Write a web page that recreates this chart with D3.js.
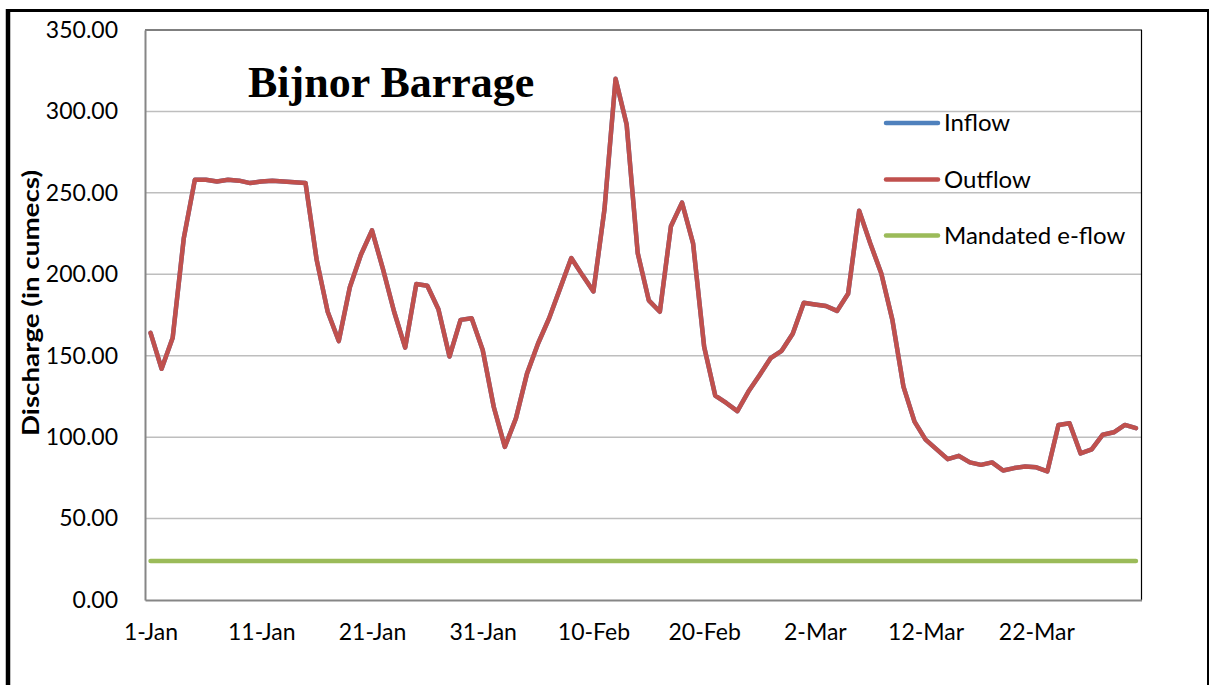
<!DOCTYPE html>
<html>
<head>
<meta charset="utf-8">
<script src="https://cdn.jsdelivr.net/npm/d3@7"></script>
<style>
  html, body { margin: 0; padding: 0; background: #fff; }
  svg { display: block; }
</style>
</head>
<body>
<svg id="chart" width="1210" height="685"></svg>
<script>
// ---- data ----
const title = "Bijnor Barrage";
const yTitle = "Discharge (in cumecs)";
const seriesNames = ["Inflow", "Outflow", "Mandated e-flow"];
const seriesColors = ["#4F81BD", "#C0504D", "#9BBB59"];
const startDate = new Date(2015, 0, 1);
const endDate = new Date(2015, 3, 1); // exclusive -> 1-Jan .. 31-Mar
const outflow = [
  164, 142, 161, 222, 258, 258, 257, 258, 257.5, 256,
  257, 257.5, 257, 256.5, 256, 209, 177, 159, 192, 212,
  227, 203, 177, 155, 194, 193, 178.5, 149.5, 172, 173,
  153.5, 118.5, 94, 111.5, 139, 157.5, 173, 191.5, 210, 199.5,
  189.5, 240, 320, 292, 213, 184, 177, 229.5, 244, 219,
  155.5, 125.5, 121, 116, 128, 138, 148.5, 153, 163.5, 182.5,
  181.5, 180.5, 177.5, 188, 239, 219, 200.5, 172, 131, 109.5,
  98.5, 92.5, 86.5, 88.5, 84.5, 83, 84.5, 79.5, 81, 82,
  81.5, 79, 107.5, 108.5, 90, 92.5, 101.5, 103, 107.5, 105.5
];
// inflow coincides with outflow and is hidden beneath it in the reference
const inflow = outflow.slice();
const mandated = 24;
const yTicks = [0, 50, 100, 150, 200, 250, 300, 350];
const xTickLabels = ["1-Jan", "11-Jan", "21-Jan", "31-Jan", "10-Feb", "20-Feb", "2-Mar", "12-Mar", "22-Mar"];

// ---- layout ----
const svg = d3.select("#chart");
const plot = { left: 145, right: 1141.5, top: 30, bottom: 600 };
const sans = "Lato, 'Open Sans', sans-serif";

const dates = d3.timeDays(startDate, endDate);
const idx = dates.map((d, i) => i);

const x = d3.scalePoint().domain(idx).range([plot.left, plot.right]).padding(0.5);
const y = d3.scaleLinear().domain([0, 350]).range([plot.bottom, plot.top]);

// outer frame
svg.append("rect").attr("x", 0).attr("y", 0).attr("width", 1210).attr("height", 685).attr("fill", "#fff");
svg.append("line").attr("x1", 8).attr("x2", 8).attr("y1", 9).attr("y2", 685).attr("stroke", "#000").attr("stroke-width", 4.5);
svg.append("line").attr("x1", 6).attr("x2", 1209).attr("y1", 10.5).attr("y2", 10.5).attr("stroke", "#000").attr("stroke-width", 3);
svg.append("line").attr("x1", 1208).attr("x2", 1208).attr("y1", 9).attr("y2", 685).attr("stroke", "#000").attr("stroke-width", 2);

// gridlines
svg.append("g").selectAll("line").data(yTicks.filter(v => v > 0 && v < 350)).join("line")
  .attr("x1", plot.left).attr("x2", plot.right)
  .attr("y1", d => y(d)).attr("y2", d => y(d))
  .attr("stroke", "#BEBEBE").attr("stroke-width", 1.5);

// plot border top/right
svg.append("line").attr("x1", plot.left).attr("x2", plot.right + 0.5).attr("y1", plot.top).attr("y2", plot.top)
  .attr("stroke", "#000").attr("stroke-width", 1.2);
svg.append("line").attr("x1", plot.right).attr("x2", plot.right).attr("y1", plot.top).attr("y2", plot.bottom)
  .attr("stroke", "#000").attr("stroke-width", 1.2);

// axes
const yAxis = d3.axisLeft(y).tickValues(yTicks).tickFormat(d3.format(".2f")).tickSize(0).tickPadding(27);
const gy = svg.append("g").attr("transform", `translate(${plot.left},0)`).call(yAxis);
gy.select(".domain").attr("stroke", "#868686").attr("stroke-width", 2);
gy.selectAll("text").style("font-size", "23px").style("font-family", sans).attr("fill", "#000");

const xAxis = d3.axisBottom(x).tickValues(idx.filter(i => i % 10 === 0))
  .tickFormat(i => xTickLabels[i / 10]).tickSize(0).tickPadding(24);
const gx = svg.append("g").attr("transform", `translate(0,${plot.bottom})`).call(xAxis);
gx.select(".domain").attr("stroke", "#868686").attr("stroke-width", 2);
gx.selectAll("text").style("font-size", "23px").style("font-family", sans).attr("fill", "#000");

// series
const line = d3.line().x((d, i) => x(i)).y(d => y(d));
svg.append("path").datum(inflow).attr("d", line).attr("fill", "none")
  .attr("stroke", seriesColors[0]).attr("stroke-width", 4.5).attr("stroke-linejoin", "round").attr("stroke-linecap", "round");
svg.append("path").datum(idx.map(() => mandated)).attr("d", line).attr("fill", "none")
  .attr("stroke", seriesColors[2]).attr("stroke-width", 4.5).attr("stroke-linecap", "round");
svg.append("path").datum(outflow).attr("d", line).attr("fill", "none")
  .attr("stroke", seriesColors[1]).attr("stroke-width", 4.5).attr("stroke-linejoin", "round").attr("stroke-linecap", "round");

// title
svg.append("text").attr("x", 248).attr("y", 97)
  .style("font-family", "'Liberation Serif', 'DejaVu Serif', serif").style("font-weight", "bold").style("font-size", "44px")
  .attr("fill", "#000")
  .text(title);

// y axis title
svg.append("text").attr("transform", "translate(38.5,303) rotate(-90)")
  .attr("text-anchor", "middle")
  .style("font-family", sans).style("font-weight", "bold").style("font-size", "23px")
  .attr("textLength", 266).attr("lengthAdjust", "spacingAndGlyphs")
  .attr("fill", "#000")
  .text(yTitle);

// legend
const legendY = [123, 179.5, 235.5];
const lg = svg.append("g");
seriesNames.forEach((name, i) => {
  lg.append("line").attr("x1", 886).attr("x2", 938).attr("y1", legendY[i]).attr("y2", legendY[i])
    .attr("stroke", seriesColors[i]).attr("stroke-width", 4.5).attr("stroke-linecap", "round");
  lg.append("text").attr("x", 944).attr("y", legendY[i]).attr("dy", "0.35em")
    .style("font-family", sans).style("font-size", "24px").attr("fill", "#000").text(name);
});
</script>
</body>
</html>
